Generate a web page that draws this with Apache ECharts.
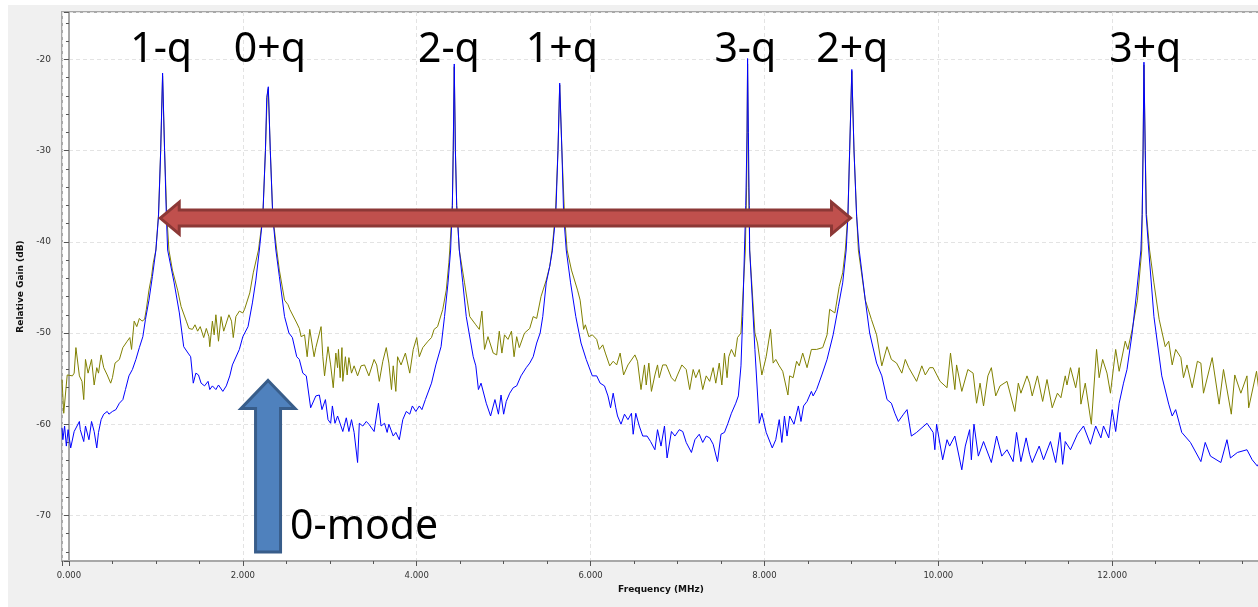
<!DOCTYPE html>
<html>
<head>
<meta charset="utf-8">
<script src="https://cdn.jsdelivr.net/npm/echarts@6/dist/echarts.min.js"></script>
<style>
html, body { margin: 0; padding: 0; background: #fff; }
#chart { width: 1258px; height: 607px; }
</style>
</head>
<body>
<div id="chart"></div>
<script>
// blue trace (MHz, dB)
var blueFreq = [-0.08,-0.07,-0.05,-0.03,-0.01,0.02,0.06,0.12,0.13,0.17,0.19,0.23,0.26,0.29,0.32,0.34,0.37,0.40,0.44,0.46,0.50,0.54,0.58,0.62,0.65,0.69,0.73,0.77,0.81,0.85,0.88,0.92,0.96,1.00,
    1.03,1.055,1.077,1.10,1.12,1.135,1.21,1.27,1.32,1.37,1.40,1.43,1.46,1.49,1.52,1.56,1.60,1.62,1.65,1.69,1.72,1.77,1.81,1.85,1.88,1.96,2.00,2.06,2.11,2.15,2.19,
    2.23,2.26,2.275,2.293,2.316,2.344,2.38,2.42,2.48,2.53,2.57,2.62,2.65,2.69,2.73,2.78,2.84,2.88,2.91,2.95,2.98,3.01,3.03,3.06,3.09,3.15,3.19,3.22,3.25,3.28,3.32,
    3.34,3.38,3.42,3.45,3.51,3.56,3.59,3.63,3.66,3.68,3.73,3.76,3.80,3.84,3.88,3.92,3.95,3.99,4.03,4.06,4.10,4.17,4.22,4.28,4.32,4.36,4.39,
    4.41,4.42,4.432,4.445,4.46,4.49,4.53,4.57,4.65,4.68,4.71,4.74,4.80,4.85,4.90,4.94,4.97,5.00,5.03,5.07,5.11,5.15,5.20,5.26,5.30,5.34,5.38,5.42,5.45,5.49,5.53,
    5.56,5.60,5.625,5.645,5.67,5.69,5.72,5.77,5.83,5.89,5.95,6.02,6.07,6.11,6.16,6.20,6.23,6.26,6.29,6.31,6.35,6.39,6.43,6.47,6.49,6.52,6.56,6.60,6.65,6.69,6.74,
    6.77,6.81,6.85,6.88,6.93,6.97,7.02,7.06,7.10,7.16,7.20,7.25,7.29,7.33,7.37,7.41,7.46,7.50,7.54,7.58,7.62,7.67,7.70,7.73,7.75,7.77,
    7.785,7.80,7.806,7.815,7.825,7.83,7.89,7.94,7.97,8.02,8.09,8.13,8.17,8.20,8.23,8.26,8.29,8.34,8.39,8.42,8.45,8.49,8.54,8.56,8.60,8.66,8.72,8.79,8.85,8.90,8.94,
    8.96,8.98,9.005,9.03,9.06,9.09,9.16,9.21,9.29,9.35,9.41,9.46,9.50,9.54,9.60,9.64,9.69,9.75,9.87,9.94,9.96,9.98,10.05,10.10,10.13,10.19,10.27,10.31,10.36,10.38,
    10.41,10.46,10.52,10.61,10.67,10.73,10.79,10.86,10.90,10.95,11.01,11.05,11.08,11.16,11.21,11.29,11.35,11.40,11.43,11.46,11.52,11.60,11.67,11.75,11.81,11.87,
    11.90,11.96,12.00,12.04,12.08,12.13,12.17,12.23,12.28,12.33,12.345,12.355,12.365,12.38,12.39,12.42,12.48,12.57,12.65,12.69,12.73,12.80,12.90,13.02,13.07,
    13.13,13.25,13.32,13.36,13.44,13.55,13.61,13.67,13.70];
var blueGain = [-60.4,-61.7,-60.2,-62.4,-60.6,-62.6,-60.8,-59.7,-60.6,-61.9,-60.2,-61.7,-59.7,-60.8,-62.6,-60.9,-59.5,-58.9,-58.6,-58.9,-58.6,-58.4,-57.7,-57.3,-56.2,-54.7,-54.0,-52.9,-51.6,-50.4,-48.5,-46.4,-43.8,-40.9,
    -37.2,-30.0,-21.5,-30.0,-37.0,-40.9,-44.5,-47.8,-51.5,-52.2,-52.6,-55.5,-54.4,-54.6,-55.5,-55.8,-55.3,-56.2,-55.8,-56.2,-55.7,-56.4,-55.8,-54.7,-53.5,-51.8,-50.4,-49.3,-46.7,-44.2,-40.9,
    -37.2,-30.0,-24.2,-23.0,-30.0,-37.2,-40.9,-43.8,-48.2,-50.0,-50.5,-52.6,-52.9,-54.4,-54.7,-58.2,-56.9,-56.8,-58.4,-57.3,-59.5,-59.9,-58.0,-59.9,-59.1,-60.8,-59.3,-60.8,-59.5,-60.9,-64.2,
    -59.9,-60.2,-59.7,-60.0,-60.8,-57.7,-60.2,-59.9,-60.9,-60.0,-61.3,-60.9,-61.7,-59.5,-58.6,-58.9,-58.0,-58.6,-58.0,-58.4,-57.3,-55.5,-53.5,-51.5,-48.2,-44.5,-40.9,
    -36.0,-30.0,-20.5,-30.0,-36.0,-40.9,-44.5,-48.2,-52.6,-53.6,-56.2,-55.5,-57.7,-59.1,-57.3,-58.9,-56.8,-58.9,-57.5,-56.6,-56.0,-55.8,-54.7,-53.8,-53.3,-52.6,-51.1,-50.0,-48.2,-44.5,-42.7,
    -41.0,-37.0,-30.0,-22.6,-30.0,-37.0,-40.9,-44.5,-48.2,-51.1,-52.9,-54.7,-54.7,-55.5,-55.8,-56.9,-58.2,-56.6,-58.2,-59.1,-60.0,-58.9,-59.5,-58.8,-61.1,-58.8,-60.2,-61.3,-61.3,-61.9,-62.8,
    -60.6,-62.4,-60.2,-63.7,-60.8,-61.3,-60.6,-60.8,-62.0,-63.1,-61.7,-61.1,-62.0,-61.3,-61.5,-62.2,-64.1,-61.1,-60.9,-59.9,-58.8,-57.7,-56.9,-53.6,-48.2,-40.9,
    -36.0,-28.0,-19.9,-28.0,-36.0,-40.9,-51.8,-59.9,-58.8,-60.9,-62.6,-61.7,-59.5,-62.0,-59.1,-61.3,-59.1,-60.0,-58.0,-59.7,-58.0,-57.5,-56.4,-56.9,-56.2,-54.6,-52.9,-50.2,-47.1,-44.5,-40.9,
    -37.2,-30.0,-21.1,-30.0,-37.2,-40.9,-46.4,-50.0,-53.3,-54.7,-57.3,-57.7,-58.8,-59.7,-58.9,-58.4,-61.3,-60.9,-59.9,-60.9,-62.8,-60.0,-63.9,-61.7,-62.4,-61.3,-65.0,-62.4,-60.6,-63.9,
    -60.0,-63.5,-61.9,-64.2,-61.3,-63.5,-62.8,-64.1,-60.9,-64.1,-61.5,-63.3,-64.2,-62.4,-63.9,-61.9,-64.2,-60.9,-64.4,-61.9,-62.8,-61.1,-60.2,-62.2,-60.2,-61.5,
    -60.2,-61.5,-58.4,-60.8,-57.7,-55.5,-54.0,-50.0,-45.6,-40.9,-37.0,-30.0,-20.3,-30.0,-37.0,-40.9,-48.2,-54.7,-57.8,-59.1,-58.4,-60.9,-62.0,-64.1,-62.0,
    -63.5,-64.2,-61.7,-63.7,-63.1,-62.8,-63.9,-64.6,-64.0];

// olive trace (MHz, dB)
var oliveFreq = [-0.08,-0.06,-0.02,0.04,0.06,0.08,0.12,0.15,0.17,0.19,0.22,0.26,0.29,0.32,0.34,0.37,0.40,0.44,0.48,0.50,0.53,0.58,0.62,0.67,0.70,0.72,0.75,0.78,0.81,0.84,0.87,0.89,0.92,0.95,0.97,1.00,
    1.03,1.055,1.077,1.10,1.125,1.15,1.19,1.25,1.29,1.35,1.38,1.42,1.45,1.48,1.51,1.55,1.58,1.61,1.62,1.65,1.67,1.69,1.72,1.75,1.78,1.81,1.84,1.87,1.89,1.92,1.96,2.00,2.02,2.08,2.12,2.18,
    2.23,2.26,2.28,2.293,2.316,2.345,2.39,2.42,2.48,2.52,2.54,2.62,2.65,2.67,2.71,2.74,2.77,2.82,2.84,2.90,2.92,2.94,2.98,3.01,3.04,3.07,3.09,3.10,3.12,3.14,3.15,3.18,3.20,3.22,3.25,
    3.28,3.32,3.36,3.40,3.45,3.51,3.54,3.57,3.61,3.65,3.68,3.71,3.73,3.76,3.78,3.82,3.87,3.92,3.96,4.00,4.03,4.07,4.13,4.17,4.20,4.24,4.30,4.34,4.37,4.38,
    4.41,4.42,4.432,4.445,4.46,4.49,4.55,4.61,4.68,4.72,4.75,4.78,4.82,4.88,4.92,4.95,4.98,5.01,5.05,5.09,5.12,5.15,5.18,5.24,5.30,5.34,5.38,5.43,5.49,5.53,
    5.555,5.595,5.625,5.645,5.67,5.70,5.73,5.78,5.85,5.88,5.92,5.94,5.98,6.02,6.07,6.10,6.14,6.17,6.22,6.26,6.30,6.34,6.38,6.43,6.51,6.54,6.58,6.62,6.64,6.67,6.70,
    6.74,6.77,6.79,6.83,6.87,6.93,6.97,7.00,7.05,7.10,7.14,7.18,7.21,7.25,7.29,7.33,7.37,7.41,7.44,7.48,7.51,7.54,7.57,7.59,7.62,7.66,7.69,7.73,7.76,7.78,
    7.795,7.806,7.818,7.83,7.89,7.92,7.97,8.02,8.07,8.10,8.13,8.17,8.21,8.27,8.29,8.33,8.37,8.40,8.44,8.49,8.54,8.60,8.67,8.72,8.75,8.81,8.86,8.90,8.93,
    8.96,8.98,9.005,9.03,9.06,9.08,9.16,9.23,9.29,9.35,9.41,9.46,9.52,9.58,9.62,9.66,9.75,9.81,9.85,9.90,9.94,10.02,10.10,10.14,10.19,10.21,10.27,10.34,10.40,10.44,
    10.48,10.52,10.57,10.61,10.66,10.71,10.79,10.88,10.92,10.95,11.02,11.05,11.08,11.14,11.20,11.25,11.31,11.37,11.41,11.46,11.48,11.52,11.58,11.62,11.64,11.69,
    11.76,11.82,11.85,11.89,11.94,11.98,12.04,12.08,12.15,12.18,12.23,12.29,12.34,12.345,12.355,12.365,12.38,12.395,12.43,12.48,12.54,12.61,12.65,12.69,12.73,
    12.79,12.82,12.86,12.92,12.98,13.02,13.05,13.15,13.23,13.28,13.37,13.41,13.48,13.55,13.57,13.66,13.70];
var oliveGain = [-55.1,-58.8,-54.6,-54.7,-54.4,-51.6,-54.7,-55.3,-57.3,-52.9,-54.4,-52.9,-55.7,-53.8,-54.4,-52.4,-53.8,-54.6,-55.5,-54.9,-53.3,-52.9,-51.6,-50.9,-50.5,-51.8,-48.7,-49.3,-48.4,-48.7,-48.5,-47.4,-45.3,-43.8,-42.3,-40.9,
    -37.0,-30.0,-21.8,-30.0,-37.0,-40.9,-43.1,-45.3,-47.1,-48.7,-49.5,-49.6,-49.1,-49.8,-49.3,-50.5,-49.5,-50.4,-51.5,-48.7,-50.2,-48.0,-50.9,-48.2,-49.8,-48.9,-48.0,-48.7,-50.5,-48.2,-47.6,-47.8,-47.4,-45.6,-43.4,-40.9,
    -37.2,-30.0,-24.0,-23.2,-30.0,-37.2,-40.9,-43.1,-46.4,-46.9,-47.4,-48.9,-49.5,-50.4,-50.2,-52.6,-49.6,-52.6,-51.6,-49.3,-52.6,-54.7,-51.5,-53.5,-56.0,-52.2,-53.8,-51.8,-54.9,-51.6,-55.3,-52.6,-54.6,-52.7,-54.4,
    -53.6,-54.7,-53.6,-53.5,-54.7,-52.9,-53.5,-55.3,-53.1,-51.6,-53.3,-56.2,-53.6,-56.4,-52.6,-53.5,-52.2,-54.4,-51.8,-50.5,-52.6,-51.6,-50.9,-50.5,-49.6,-49.3,-47.4,-45.3,-42.3,-40.9,
    -36.0,-30.0,-20.8,-30.0,-36.0,-40.9,-44.5,-48.2,-49.1,-49.6,-47.6,-51.8,-50.4,-52.2,-52.4,-49.8,-52.2,-50.2,-50.7,-49.8,-52.6,-50.4,-51.6,-50.0,-49.5,-48.2,-48.4,-46.0,-44.2,-42.7,
    -41.0,-37.0,-30.0,-22.8,-30.0,-37.0,-40.9,-43.1,-45.3,-46.4,-49.6,-49.1,-50.4,-50.2,-50.7,-51.8,-51.3,-52.2,-53.6,-53.1,-53.5,-52.2,-54.6,-53.5,-52.4,-53.1,-56.2,-53.5,-55.7,-53.3,-56.4,
    -54.6,-53.5,-54.9,-53.5,-53.5,-54.9,-55.3,-54.6,-53.5,-54.0,-56.2,-54.0,-54.9,-54.0,-56.2,-54.7,-55.3,-53.8,-55.5,-53.3,-55.7,-52.2,-54.9,-52.6,-51.8,-52.6,-50.5,-50.0,-44.5,-40.9,
    -34.0,-20.5,-34.0,-40.9,-50.0,-51.1,-54.6,-52.6,-49.6,-53.3,-52.9,-53.6,-54.2,-56.8,-54.7,-54.9,-53.1,-53.6,-52.2,-53.8,-51.8,-51.8,-51.6,-50.2,-47.4,-47.8,-44.9,-43.4,-40.9,
    -37.0,-30.0,-21.3,-30.0,-37.0,-40.9,-46.4,-48.5,-50.2,-53.6,-51.5,-52.9,-53.3,-54.4,-52.9,-53.8,-55.3,-53.6,-54.6,-53.8,-53.8,-55.3,-56.0,-52.2,-56.2,-53.5,-56.4,-54.0,-54.4,-57.7,
    -55.5,-58.0,-54.7,-53.8,-56.9,-55.8,-55.3,-58.6,-55.5,-56.6,-54.7,-55.5,-56.9,-54.7,-57.5,-55.1,-58.2,-56.6,-57.1,-54.7,-55.7,-53.8,-56.0,-53.8,-57.8,-55.5,
    -60.0,-51.8,-54.9,-52.9,-54.4,-56.6,-51.8,-54.2,-50.9,-51.8,-49.6,-46.4,-40.9,-37.0,-30.0,-20.6,-30.0,-37.0,-40.9,-44.5,-48.5,-51.5,-50.9,-53.5,-51.8,
    -52.7,-54.9,-53.5,-56.0,-53.1,-53.3,-56.6,-52.7,-57.8,-54.0,-58.9,-54.6,-56.6,-54.7,-58.2,-54.2,-57.3];

// annotations
var peakLabels = ['1-q', '0+q', '2-q', '1+q', '3-q', '2+q', '3+q'];
var labelFreq = [1.06, 2.31, 4.37, 5.67, 7.78, 9.01, 12.38];
var labelGain = -20.3;
var spanFreq = [1.05, 8.99];   // red double arrow, 1-q to 2+q
var spanGain = -37.4;
var modeFreq = 2.29;           // 0-mode arrow
var modeGain = [-55.2, -74.0];
var modeText = '0-mode';

var chart = echarts.init(document.getElementById('chart'));

function toPairs(xs, ys) {
    return xs.map(function (x, i) { return [x, ys[i]]; });
}

var axisText = { fontFamily: 'DejaVu Sans', fontSize: 9, color: '#333' };

chart.setOption({
    animation: false,
    backgroundColor: '#f0f0f0',
    grid: {
        left: 62, right: -2, top: 12, bottom: 46,
        show: true, backgroundColor: '#fff', borderColor: '#a8a8a8', borderWidth: 2,
        outerBoundsMode: 'none'
    },
    xAxis: {
        type: 'value',
        min: -0.08, max: 13.70,
        splitNumber: 7,
        name: 'Frequency (MHz)',
        nameLocation: 'middle',
        nameGap: 23,
        nameTextStyle: { fontFamily: 'DejaVu Sans', fontSize: 9, fontWeight: 'bold', color: '#111' },
        axisLine: { lineStyle: { color: '#a8a8a8', width: 2 } },
        axisTick: { length: 5, lineStyle: { color: '#555' } },
        minorTick: { show: true, splitNumber: 4, length: 3, lineStyle: { color: '#555' } },
        splitLine: { lineStyle: { color: '#e3e3e3', type: [4, 3] } },
        axisLabel: Object.assign({ margin: 10, showMinLabel: false, showMaxLabel: false,
            formatter: function (v) { return v.toFixed(3); } }, axisText, { fontSize: 8.5 })
    },
    yAxis: {
        type: 'value',
        min: -75, max: -14.8,
        splitNumber: 6,
        name: 'Relative Gain (dB)',
        nameLocation: 'middle',
        nameGap: 35,
        nameTextStyle: { fontFamily: 'DejaVu Sans', fontSize: 9, fontWeight: 'bold', color: '#111' },
        axisLine: { show: true, lineStyle: { color: '#a8a8a8', width: 2 } },
        axisTick: { show: true, length: 5, lineStyle: { color: '#555' } },
        minorTick: { show: true, splitNumber: 5, length: 3, lineStyle: { color: '#555' } },
        splitLine: { lineStyle: { color: '#e3e3e3', type: [4, 3] } },
        axisLabel: Object.assign({ margin: 11, showMinLabel: false, showMaxLabel: false }, axisText)
    },
    series: [{
        name: 'olive',
        type: 'line',
        showSymbol: false,
        data: toPairs(oliveFreq, oliveGain),
        lineStyle: { color: '#808000', width: 1 },
        z: 2
    }, {
        name: 'blue',
        type: 'line',
        showSymbol: false,
        data: toPairs(blueFreq, blueGain),
        lineStyle: { color: '#0000ff', width: 1 },
        z: 3
    }]
});

// overlay: labels and arrows, placed from data coordinates
function px(x, y) { return chart.convertToPixel({ gridIndex: 0 }, [x, y]); }

var big = 41;
var graphics = [
    { type: 'rect', shape: { x: 0, y: 0, width: 8, height: 607 }, style: { fill: '#fff' }, silent: true },
    { type: 'rect', shape: { x: 0, y: 0, width: 1258, height: 5 }, style: { fill: '#fff' }, silent: true }
];

peakLabels.forEach(function (t, i) {
    var p = px(labelFreq[i], labelGain);
    graphics.push({
        type: 'text', z: 10,
        style: { text: t, x: p[0], y: p[1] - big * 0.285, align: 'center', verticalAlign: 'middle',
                 font: big + 'px "Noto Sans"', fill: '#000' }
    });
});

// red double-headed arrow
var a = px(spanFreq[0], spanGain), b = px(spanFreq[1], spanGain);
var cy = a[1], sh = 8, hh = 16, hl = 19;
graphics.push({
    type: 'polygon', z: 11,
    shape: { points: [
        [a[0], cy], [a[0] + hl, cy - hh], [a[0] + hl, cy - sh], [b[0] - hl, cy - sh], [b[0] - hl, cy - hh],
        [b[0], cy], [b[0] - hl, cy + hh], [b[0] - hl, cy + sh], [a[0] + hl, cy + sh], [a[0] + hl, cy + hh]
    ] },
    style: { fill: '#c0504d', stroke: '#8c3836', lineWidth: 3, lineJoin: 'miter' }
});

// blue up arrow
var tip = px(modeFreq, modeGain[0]), base = px(modeFreq, modeGain[1]);
var mx = tip[0], bw = 12.5, hw = 27, ah = 28;
graphics.push({
    type: 'polygon', z: 11,
    shape: { points: [
        [mx, tip[1]], [mx + hw, tip[1] + ah], [mx + bw, tip[1] + ah], [mx + bw, base[1]],
        [mx - bw, base[1]], [mx - bw, tip[1] + ah], [mx - hw, tip[1] + ah]
    ] },
    style: { fill: '#4f81bd', stroke: '#385d8a', lineWidth: 3, lineJoin: 'miter' }
});

var mt = px(modeFreq, -72.6);
graphics.push({
    type: 'text', z: 10,
    style: { text: modeText, x: mt[0] + 22, y: mt[1] - big * 0.285, align: 'left', verticalAlign: 'middle',
             font: big + 'px "Noto Sans"', fill: '#000' }
});

chart.setOption({ graphic: graphics });
</script>
</body>
</html>
